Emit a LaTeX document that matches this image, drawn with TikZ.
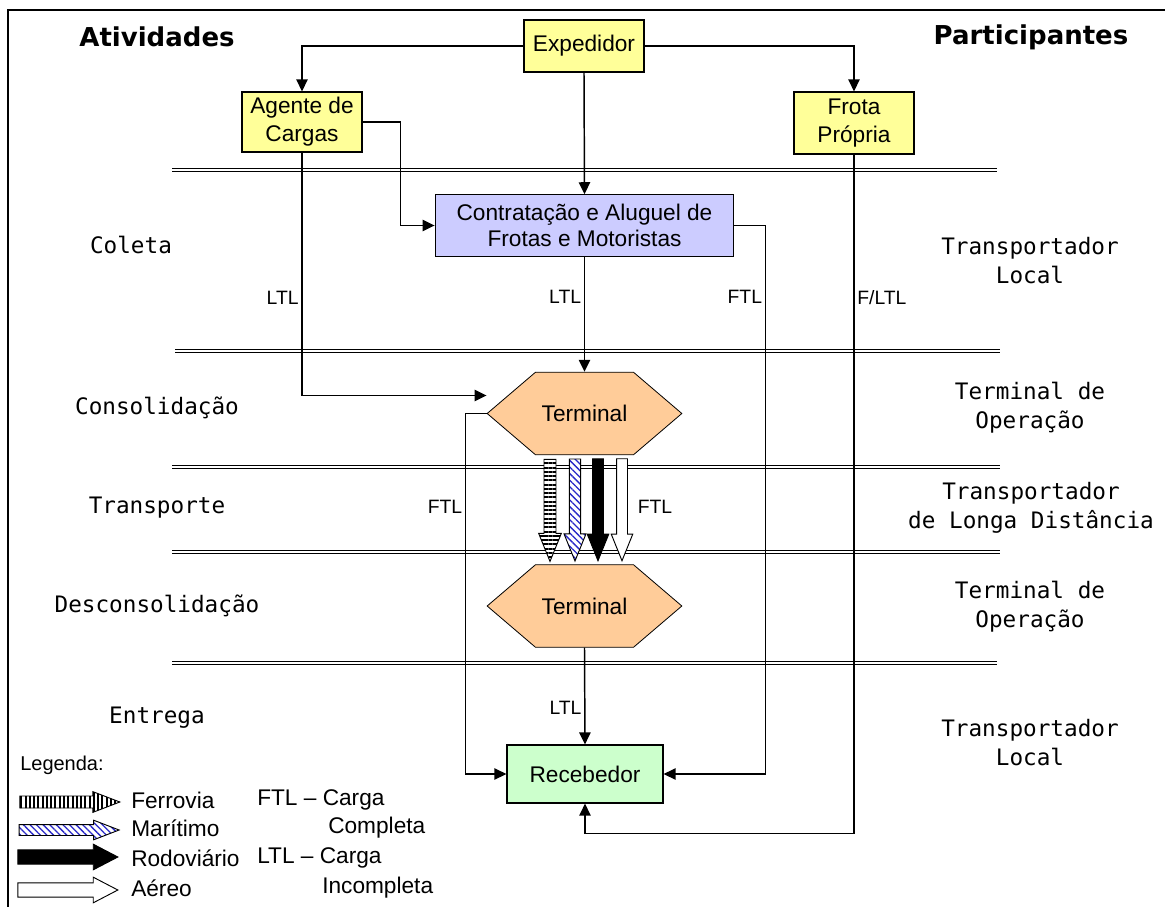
\documentclass[tikz,border=0pt]{standalone}
\usepackage{fontspec}
\setmainfont{Liberation Sans}
\setsansfont{Liberation Sans}
\setmonofont{DejaVu Sans Mono}
\newfontfamily\titfont{DejaVu Sans}
\usepackage{xcolor}
\usetikzlibrary{arrows.meta,positioning,shapes.symbols,shapes.arrows,patterns.meta}

\definecolor{amarelo}{RGB}{255,255,153}
\definecolor{lilas}{RGB}{204,204,255}
\definecolor{pessego}{RGB}{255,204,153}
\definecolor{verde}{RGB}{204,255,204}
\definecolor{listra}{RGB}{40,40,200}

\tikzset{
  caixa/.style={draw, line width=0.9pt, align=center, inner sep=0pt, font=\fontsize{17}{21}\selectfont},
  term/.style={signal, signal to=east and west, signal pointer angle=81, draw, line width=0.6pt,
    fill=pessego, minimum width=146pt, minimum height=62pt, inner sep=0pt, font=\fontsize{17}{21}\selectfont},
  liga/.style={line width=1.1pt, -{Triangle[length=9pt,width=8.5pt]}},
  divisa/.style={double, line width=1.2pt, double distance=1.3pt},
  rot/.style={font=\fontsize{14.5}{17}\selectfont, inner sep=2pt},
  ativ/.style={font=\ttfamily\fontsize{17}{21.75}\selectfont, align=center},
  titulo/.style={font=\titfont\bfseries\fontsize{19.5}{23}\selectfont},
  seta/.style={single arrow, draw, line width=0.7pt, preaction={fill=white}},
  vert/.style={shape border rotate=270, inner sep=3.75pt, minimum height=76.5pt, minimum width=15.5pt,
    single arrow head extend=4pt, single arrow tip angle=44},
  legfina/.style={inner sep=3.75pt, minimum height=75pt, minimum width=14pt,
    single arrow head extend=3.25pt, single arrow tip angle=42},
  leggrossa/.style={inner sep=5pt, minimum height=75pt, minimum width=18.5pt,
    single arrow head extend=4.25pt, single arrow tip angle=55},
  leg/.style={font=\fontsize{17}{21}\selectfont, inner sep=0pt},
  trilho/.style={pattern={Lines[angle=#1,distance=3.2pt,line width=1.5pt]}},
  mar/.style={pattern={Lines[angle=-45,distance=3.5pt,line width=1pt]}, pattern color=listra}
}

\begin{document}
\begin{tikzpicture}[x=0.75pt,y=-0.75pt]
\useasboundingbox (0,0) rectangle (1165,907);
% moldura
\draw[line width=1.5pt] (8,907) -- (8,10) -- (1165,10);
\node[titulo] (ativ) at (157,37) {Atividades};
\node[titulo] (part) at (1031,37) {Participantes};

% divisorias
\draw[divisa] (172,170) -- (997,170);
\draw[divisa] (175,351) -- (1000,351);
\draw[divisa] (172,467) -- (1000,467);
\draw[divisa] (172,552) -- (1000,552);
\draw[divisa] (172,663) -- (997,663);

% etapas
\node[ativ] (coleta) at (131,245) {Coleta};
\node[ativ] (consol) at (157,408) {Consolidação};
\node[ativ] (transp) at (157,508) {Transporte};
\node[ativ] (descon) at (157,606) {Desconsolidação};
\node[ativ] (entrega) at (157,718) {Entrega};
\node[ativ] (p1) at (1030,261) {Transportador\\Local};
\node[ativ] (p2) at (1030,408) {Terminal de\\Operação};
\node[ativ] (p3) at (1031,508) {Transportador\\de Longa Distância};
\node[ativ] (p4) at (1030,607) {Terminal de\\Operação};
\node[ativ] (p5) at (1030,743) {Transportador\\Local};

% caixas
\node[caixa, fill=amarelo, minimum width=90pt, minimum height=39pt] (exp) at (584,46) {Expedidor};
\node[caixa, fill=amarelo, minimum width=90pt, minimum height=45pt] (agente) at (302,122) {Agente de\\Cargas};
\node[caixa, fill=amarelo, minimum width=90pt, minimum height=46.5pt] (frota) at (854,123) {Frota\\Própria};
\node[caixa, fill=lilas, minimum width=224pt, minimum height=46pt, font=\fontsize{17}{20}\selectfont] (contr) at (584.5,225.5) {Contratação e Aluguel de\\Frotas e Motoristas};
\node[term] (term1) at (584.5,413.5) {Terminal};
\node[term] (term2) at (584.5,606) {Terminal};
\node[caixa, fill=verde, minimum width=117pt, minimum height=43.5pt] (receb) at (585,774) {Recebedor};

% ligacoes
\draw[liga] (exp.west) -| (agente.north);
\draw[liga] (exp.east) -| (frota.north);
\draw[liga] (exp.south) -- (contr.north);
\draw[liga] (agente.east) -- ++(38,0) |- (contr.west);
\draw[liga] (agente.south) |- ([yshift=13.5pt]term1.west) node[rot, pos=0.3, left] {LTL};
\draw[liga] (contr.south) -- (term1.north) node[rot, pos=0.35, left] {LTL};
\draw[liga] (contr.east) -- ++(31,0) |- (receb.east) node[rot, pos=0.065, left] {FTL};
\draw[liga] (frota.south) |- ([yshift=-22.5pt]receb.south) node[rot, pos=0.105, right] {F/LTL} -- (receb.south);
\draw[liga] (term1.west) -- ++(-21,0) |- (receb.west) node[rot, pos=0.13, left] {FTL};
\draw[liga] (term2.south) -- (receb.north) node[rot, pos=0.62, left] {LTL};
\node[rot] (ftl) at (655,507) {FTL};

% modais
\node[seta, vert, trilho=0] (ferro) at (550,503) {};
\node[seta, vert, mar] (marit) at (575,503) {};
\node[seta, vert, fill=black] (rodo) at (598,503) {};
\node[seta, vert] (aereo) at (622,503) {};

% legenda
\node[leg, font=\fontsize{15}{18}\selectfont, anchor=west] (legenda) at (20,765) {Legenda:};
\node[seta, legfina, trilho=90] (lferro) at (62,802) {};
\node[seta, legfina, mar] (lmar) at (62,830) {};
\node[seta, leggrossa, fill=black] (lrodo) at (61,857) {};
\node[seta, leggrossa] (laereo) at (61,890) {};
\node[leg, anchor=west] (tferro) at (131,800) {Ferrovia};
\node[leg, anchor=west] (tmar) at (131,828) {Marítimo};
\node[leg, anchor=west] (trodo) at (131,858) {Rodoviário};
\node[leg, anchor=west] (taereo) at (131,888) {Aéreo};
\node[leg, anchor=west] (ftlleg) at (257,800) {FTL – Carga};
\node[leg, anchor=west] (ftlcomp) at (328,828) {Completa};
\node[leg, anchor=west] (ltlleg) at (257,858) {LTL – Carga};
\node[leg, anchor=west] (ltlinc) at (322,888) {Incompleta};
\end{tikzpicture}
\end{document}
